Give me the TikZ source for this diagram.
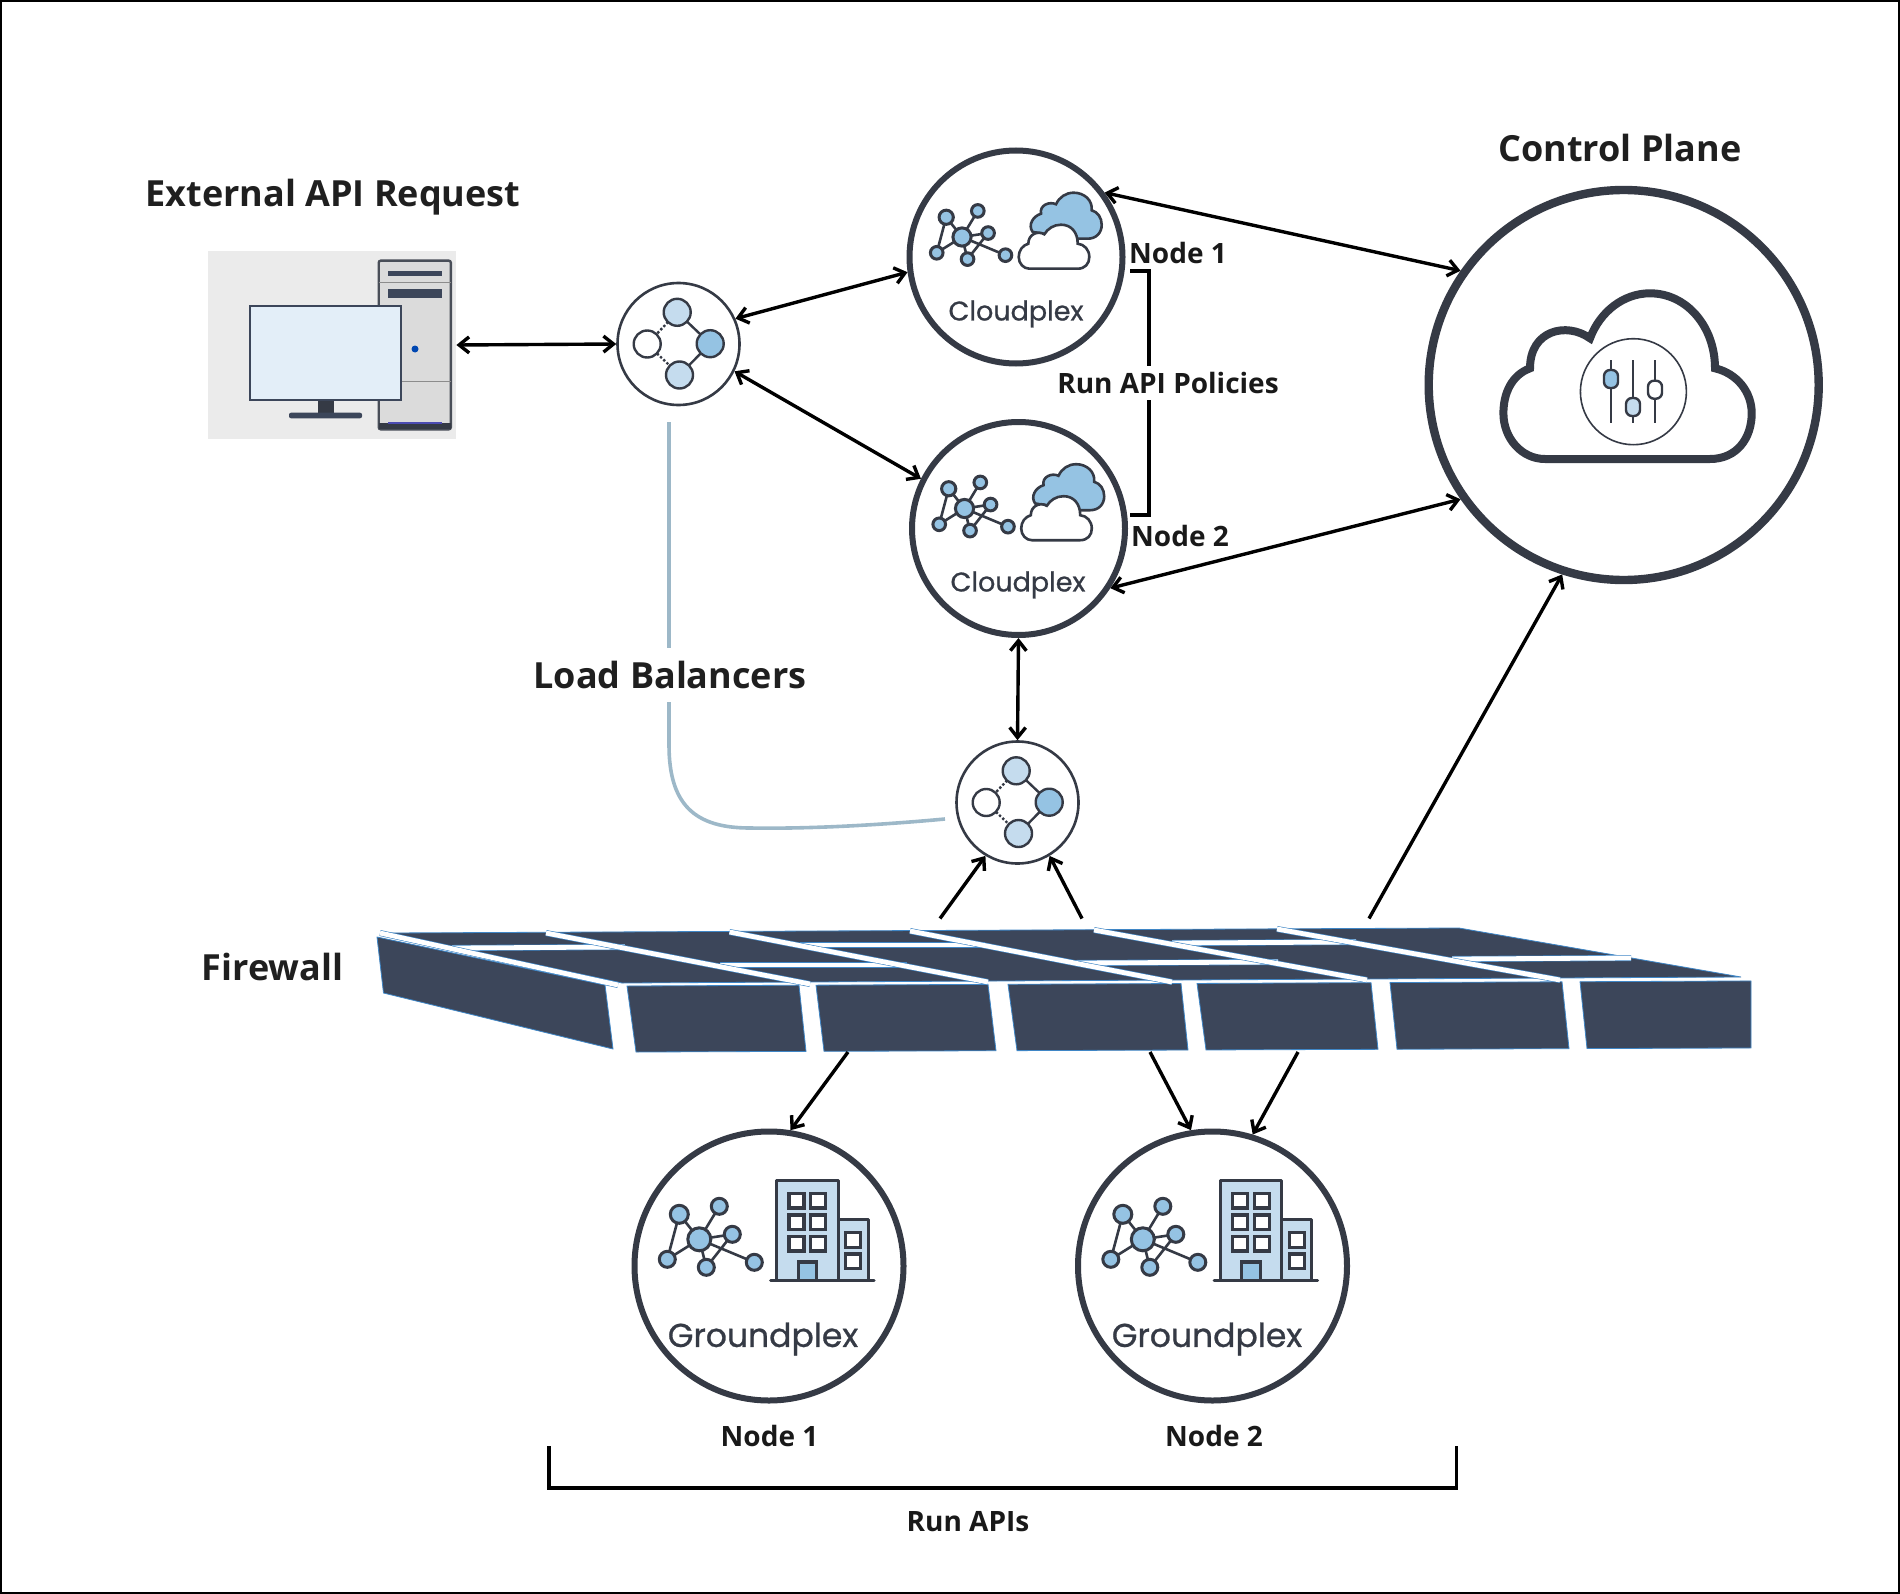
\documentclass[tikz,border=0pt]{standalone}
\usepackage{fontspec}
\setmainfont{Open Sans}
\newfontfamily\plexfont[FakeBold=.8]{Poppins}
\usetikzlibrary{arrows.meta}
\definecolor{inkdark}{HTML}{353A45}
\definecolor{skymid}{HTML}{95C3E3}
\definecolor{skylight}{HTML}{C5DCEE}
\definecolor{screen}{HTML}{E3EEF8}
\definecolor{fwdark}{HTML}{3C465A}
\definecolor{fwedge}{HTML}{3F86C6}
\definecolor{lbline}{HTML}{9DB8C8}
\tikzset{
    hub/.style={circle,draw=inkdark,fill=white,inner sep=0pt},
    plexring/.style={hub,line width=3pt,minimum size=#1},
    link/.style={line width=1.7pt,{Straight Barb[length=5pt,width=8pt]}-{Straight Barb[length=5pt,width=8pt]}},
    oneway/.style={line width=1.7pt,-{Straight Barb[length=5pt,width=8pt]}},
    heading/.style={font=\fontsize{18}{20}\selectfont\bfseries,text=black!88},
    tag/.style={font=\fontsize{14}{16}\selectfont\bfseries,text=black!90},
    plexlabel/.style={font=\plexfont\fontsize{#1}{18}\selectfont,text=inkdark},
    fwseam/.style={draw=white,line width=2.4pt,preaction={draw=fwedge,line width=3pt}},
    pics/net/.style={code={
        \draw[inkdark,line width=1.3pt] (0,0) -- (-20,-25) -- (-32,20) -- (0,0) -- (20,-33)
            (0,0) -- (33,-5) -- (7,28) -- (0,0) -- (55,23);
        \draw[inkdark,fill=skymid,line width=1.5pt] (0,0) circle[radius=11.5];
        \foreach \x/\y/\r in {-20/-25/9,20/-33/8,33/-5/8,-32/20/8,7/28/8,55/23/8}
            \draw[inkdark,fill=skymid,line width=1.5pt] (\x,\y) circle[radius=\r];
    }},
    pics/balancer/.style={code={
        \draw[inkdark,line width=1.2pt] (-1.3,-31.7) -- (31.7,-.3) -- (1,31);
        \draw[inkdark,line width=1.2pt,densely dotted] (-1.3,-31.7) -- (-31.3,0) -- (1,31);
        \draw[inkdark,fill=skylight,line width=1.2pt] (-1.3,-31.7) circle[radius=13.5];
        \draw[inkdark,fill=skylight,line width=1.2pt] (1,31) circle[radius=13.5];
        \draw[inkdark,fill=skymid,line width=1.2pt] (31.7,-.3) circle[radius=13.5];
        \draw[inkdark,fill=white,line width=1.2pt] (-31.3,0) circle[radius=13.5];
    }},
    pics/cloudplex/.style={code={
        \pic[scale=.79] at (-54,-20) {net};
        \draw[inkdark,fill=skymid,line width=1.3pt] (16.7,-25)
            .. controls (11.7,-31.7) and (16.7,-40.7) .. (25,-43.3)
            .. controls (23.3,-51.7) and (33.3,-56) .. (40,-52.7)
            .. controls (43.3,-60) and (50,-64.3) .. (57.7,-64.3)
            .. controls (68.3,-64.3) and (76.7,-56.7) .. (75.7,-46.7)
            .. controls (81.7,-45) and (85.7,-39.3) .. (85.7,-32.3)
            .. controls (85.7,-24) and (80,-18.3) .. (71.7,-18.3)
            -- (61.7,-18.3) -- cycle;
        \draw[inkdark,fill=white,line width=1.3pt] (13.3,11.7) -- (61.7,11.7)
            .. controls (69,11.7) and (73.3,6.7) .. (73.3,0)
            .. controls (73.3,-7.3) and (68.3,-12.7) .. (61.7,-13.3)
            .. controls (61.7,-25) and (55,-32.3) .. (45,-32.3)
            .. controls (37.7,-32.3) and (31.7,-28.3) .. (28.3,-22.7)
            .. controls (21.7,-26.7) and (12.3,-22.7) .. (12.3,-13.3)
            .. controls (6.7,-11.7) and (2.7,-6.7) .. (2.7,0)
            .. controls (2.7,6.7) and (7.7,11.7) .. (13.3,11.7) -- cycle;
    }},
    pics/groundplex/.style={code={
        \pic at (-69.7,-26.7) {net};
        \draw[inkdark,fill=skylight,line width=1.6pt,line join=round] (7.7,14.3) rectangle (69.3,-85.3);
        \draw[inkdark,fill=skylight,line width=1.6pt,line join=round] (69.3,14.3) rectangle (99.3,-46.7);
        \draw[inkdark,fill=skymid,line width=1.6pt] (29.3,14.3) rectangle (47.7,-4);
        \draw[inkdark,line width=1.6pt,line cap=round] (1.7,14.3) -- (105,14.3);
        \foreach \y in {-72.7,-51,-29.7}
            \foreach \x in {20,41.7}
                \draw[inkdark,fill=white,line width=1.6pt] (\x,\y) rectangle +(15,14.7);
        \foreach \y in {-33.3,-12}
            \draw[inkdark,fill=white,line width=1.6pt] (76.7,\y) rectangle +(15,14.7);
    }},
    pics/controlcloud/.style={code={
        \draw[inkdark,line width=4pt] (-78.7,74) -- (86.3,74)
            .. controls (113,74) and (128,53.3) .. (128,28.3)
            .. controls (128,6.7) and (113,-11.7) .. (91.3,-16.7)
            .. controls (91.3,-58.3) and (63,-91.7) .. (26.3,-91.7)
            .. controls (-.3,-91.7) and (-23.7,-73.3) .. (-33.7,-46.7)
            .. controls (-57,-63.3) and (-93.7,-55) .. (-93.7,-16.7)
            .. controls (-112,-10) and (-120.3,8.3) .. (-120.3,28.3)
            .. controls (-120.3,53.3) and (-102,74) .. (-78.7,74) -- cycle;
        \draw[inkdark,line width=.8pt] (9.7,6.7) circle[radius=53];
        \foreach \x/\y/\c in {-12.7/-6/skymid,9.3/22/skylight,31.3/4.7/white}{
            \draw[inkdark,line width=1.3pt] (\x,-25) -- (\x,38.3);
            \draw[inkdark,fill=\c,line width=1.2pt,rounded corners=3pt] (\x-7,\y-9) rectangle (\x+7,\y+9);
        }
    }},
    pics/desktop/.style={code={
        \draw[inkdark!90,fill=black!14,line width=1.2pt,rounded corners=1pt] (378.7,260.7) rectangle (450.8,429.3);
        \fill[inkdark] (378.7,422.7) rectangle (450.8,429.3);
        \fill[blue!40!gray] (388,421.5) rectangle (442,424);
        \fill[fwdark] (388,271) rectangle (442,275.7);
        \fill[fwdark] (388,289.3) rectangle (442,298);
        \draw[black!45,line width=.5pt] (378.7,282.3) -- (450.8,282.3) (378.7,381) -- (450.8,381);
        \fill[blue!60!cyan!70!black] (415,349) circle[radius=3.5];
        \fill[inkdark] (317.6,400) rectangle (333.5,412.7);
        \fill[fwdark,rounded corners=1pt] (289,412.7) rectangle (362,418.3);
        \draw[fwdark,fill=screen,line width=1.3pt] (250,306) rectangle (401,400);
    }}
}
\begin{document}
\begin{tikzpicture}[x=0.5pt,y=-0.5pt]
    \useasboundingbox (0,0) rectangle (1900,1594);
    \draw[line width=1pt] (1,1) rectangle (1899,1593);

    % line between the two balancers
    \coordinate (lbtop) at (669,422);
    \coordinate (lbend) at (945,819);
    \draw[lbline,line width=1.8pt] (lbtop) -- (669,745)
        .. controls (669,805) and (695,828) .. (750,828)
        .. controls (810,829) and (880,825) .. (lbend);
    \node[heading,fill=white,minimum height=27pt] (lbnote) at (670,675) {Load Balancers};

    % hubs
    \node[rectangle,fill=black!8,minimum width=124pt,minimum height=94pt] (pc) at (332,345) {};
    \node[hub,line width=1.3pt,minimum size=61pt] (lbone) at (678.5,344) {};
    \node[hub,line width=1.3pt,minimum size=61pt] (lbtwo) at (1017.5,802.5) {};
    \node[plexring=106.5pt] (cpone) at (1016,257) {};
    \node[plexring=106.5pt] (cptwo) at (1018.5,528.5) {};
    \node[plexring=134.5pt] (gpone) at (769,1266) {};
    \node[plexring=134.5pt] (gptwo) at (1212.5,1266) {};
    \node[hub,line width=4.2pt,minimum size=195pt] (ctrl) at (1623.7,385) {};

    \pic at (0,0) {desktop};
    \pic at (lbone) {balancer};
    \pic at (lbtwo) {balancer};
    \pic at (cpone) {cloudplex};
    \pic at (cptwo) {cloudplex};
    \pic at (gpone) {groundplex};
    \pic at (gptwo) {groundplex};
    \pic at (ctrl) {controlcloud};

    \node[plexlabel=13.5] (cponetxt) at (1016,314) {Cloudplex};
    \node[plexlabel=13.5] (cptwotxt) at (1018,585) {Cloudplex};
    \node[plexlabel=16.5] (gponetxt) at (763,1339) {Groundplex};
    \node[plexlabel=16.5] (gptwotxt) at (1207,1339) {Groundplex};

    % firewall
    \fill[fwdark,draw=fwedge,line width=.4pt] (377,937) -- (383.5,993) -- (613,1049) -- (605,985) -- cycle;
    \foreach \xa/\xb/\xc/\xd in {627/799/806/636,816/988/996/824,1008/1181/1188/1017,
                                 1197/1371/1378/1206,1390/1562/1569/1397,1580/1751/1751/1587}
        \fill[fwdark,draw=fwedge,line width=.4pt]
            (\xa,{986-.0045*(\xa-627)}) -- (\xb,{986-.0045*(\xb-627)})
            -- (\xc,{1052-.0036*(\xc-636)}) -- (\xd,{1052-.0036*(\xd-636)}) -- cycle;
    \fill[fwdark,draw=fwedge,line width=.4pt] (386,933) -- (1459,928) -- (1741,977) -- (622,983) -- cycle;
    \foreach \xa/\ya/\xb/\yb in {452/948/625/947,720/965/907/965,800/945/985/945,
                                 1075/963/1278/962,1172/943/1356/942,1452/959/1631/958}
        \draw[fwseam] (\xa,\ya) -- (\xb,\yb);
    \foreach \xa/\ya/\xb/\yb in {380/933/618/985,546/933/810/984,729.5/932/988/982,
                                 910/931/1172/982,1094/930/1367/980,1277/929/1560/980}
        \draw[fwseam] (\xa,\ya) -- (\xb,\yb);

    % firewall ends of the arrows
    \coordinate (fwa) at (940,918.5);
    \coordinate (fwb) at (1082,918.5);
    \coordinate (fwc) at (1369,918.5);
    \coordinate (fwd) at (848,1052);
    \coordinate (fwe) at (1150,1052);
    \coordinate (fwf) at (1298,1052);

    % arrows
    \draw[link] (pc.east) -- (lbone.west);
    \draw[link] (lbone.24) -- (cpone.188);
    \draw[link] (lbone.-26) -- (cptwo.153);
    \draw[link] (cpone.36) -- (ctrl.145);
    \draw[link] (cptwo.-33) -- (ctrl.215.5);
    \draw[link] (cptwo.south) -- (lbtwo.north);
    \draw[oneway] (fwa) -- (lbtwo.239);
    \draw[oneway] (fwb) -- (lbtwo.301);
    \draw[oneway] (fwc) -- (ctrl.252);
    \draw[oneway] (fwd) -- (gpone.81);
    \draw[oneway] (fwe) -- (gptwo.99);
    \draw[oneway] (fwf) -- (gptwo.73);

    % brackets
    \coordinate (runtop) at (1130,271);
    \coordinate (runbot) at (1130,515);
    \coordinate (apileft) at (549,1446);
    \coordinate (apiright) at (1456.5,1446);
    \draw[line width=1.7pt] (runtop) -- (1149,271) -- (1149,515) -- (runbot);
    \draw[line width=1.7pt] (apileft) -- (549,1488) -- (1456.5,1488) -- (apiright);

    % labels
    \node[heading] (extreq) at (333,197.5) {External API Request};
    \node[heading] (ctrltxt) at (1620,148) {Control Plane};
    \node[heading] (fwtxt) at (272.6,967) {Firewall};
    \node[tag] (cponename) at (1178,253) {Node 1};
    \node[tag] (cptwoname) at (1180,535.6) {Node 2};
    \node[tag,fill=white,inner ysep=3pt,inner xsep=1pt] (runpol) at (1168,383) {Run API Policies};
    \node[tag] (gponename) at (769.5,1436) {Node 1};
    \node[tag] (gptwoname) at (1214,1436) {Node 2};
    \node[tag] (runapi) at (968,1522) {Run APIs};
\end{tikzpicture}
\end{document}
